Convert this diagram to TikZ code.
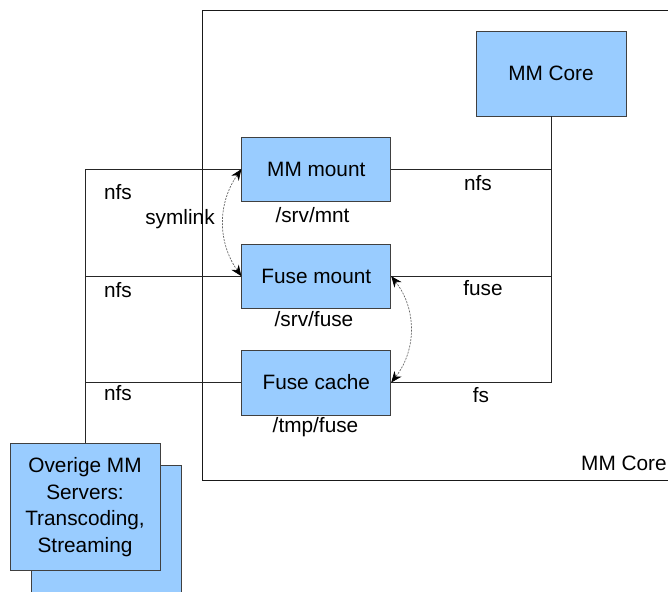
\documentclass[tikz,border=0pt]{standalone}
\usepackage{fontspec}
\setmainfont{Liberation Sans}
\usetikzlibrary{arrows.meta}
\begin{document}
\begin{tikzpicture}[x=1pt,y=-1pt,
  box/.style={draw=black!75, line width=0.9pt, fill=boxblue, minimum width=149pt, inner sep=0pt, align=center, font=\fontsize{20.8}{26.5}\selectfont},
  lbl/.style={inner sep=0pt, font=\fontsize{20.8}{24}\selectfont},
  conn/.style={draw=black!85, line width=0.8pt},
  dbl/.style={draw=black!60, line width=0.7pt, dash pattern=on 2pt off 1.2pt, {Stealth[length=11pt,width=9pt,black]}-{Stealth[length=11pt,width=9pt,black]}}
]
\definecolor{boxblue}{HTML}{99CCFF}
\useasboundingbox (0,0) rectangle (668,591);
\clip (0,0) rectangle (668,591);
% outer frame
\draw[line width=0.9pt, black!90] (202.5,10.5) rectangle (700,480.5);
\node[lbl, anchor=west] (corelbl) at (581,463) {MM Core};
% boxes
\node[box, minimum height=85pt, minimum width=150pt] (core) at (551,73.5) {MM Core};
\node[box, minimum height=64pt] (mm) at (316.3,169.2) {MM mount};
\node[box, minimum height=64pt] (fm) at (316.3,276.2) {Fuse mount};
\node[box, minimum height=65pt] (fc) at (316.3,382.5) {Fuse cache};
\node[box, minimum width=150pt, minimum height=127pt] (ovb) at (106.5,528.5) {};
\node[box, minimum width=150pt, minimum height=127pt] (ov) at (85,507) {Overige MM\\Servers:\\Transcoding,\\Streaming};
% connectors
\draw[conn] (ov.north) |- (mm.west);
\draw[conn] (fm.west) -- (fm.west -| ov.north);
\draw[conn] (fc.west) -- (fc.west -| ov.north);
\draw[conn] (core.south) |- (fc.east);
\draw[conn] (mm.east) -- (mm.east -| core.south);
\draw[conn] (fm.east) -- (fm.east -| core.south);
\draw[dbl] (mm.west) to[bend right=35] (fm.west);
\draw[dbl] (fm.east) to[bend left=38] (fc.east);
% labels
\node[lbl] (n1) at (118,192) {nfs};
\node[lbl] (n2) at (118,290) {nfs};
\node[lbl] (n3) at (118,393) {nfs};
\node[lbl] (sym) at (180,219) {symlink};
\node[lbl] (p1) at (312.5,215) {/srv/mnt};
\node[lbl] (p2) at (314,319) {/srv/fuse};
\node[lbl] (p3) at (315.5,427) {/tmp/fuse};
\node[lbl] (r1) at (478,183) {nfs};
\node[lbl] (r2) at (483,288) {fuse};
\node[lbl] (r3) at (481,395) {fs};
\end{tikzpicture}
\end{document}
